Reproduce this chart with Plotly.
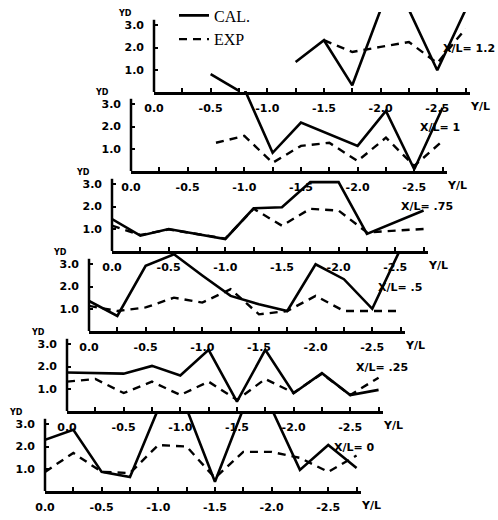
import plotly.graph_objects as go

# ---------------- data ----------------
Y_L = [0.0, -0.25, -0.5, -0.75, -1.0, -1.25, -1.5, -1.75, -2.0, -2.25, -2.5, -2.75]
X_TICK_TEXT = ["0.0", "", "-0.5", "", "-1.0", "", "-1.5", "", "-2.0", "", "-2.5", ""]
YD_TICKS = [1.0, 2.0, 3.0]
YD_TICK_TEXT = ["1.0", "2.0", "3.0"]
PANEL_LABELS = ["X/L= 1.2", "X/L= 1", "X/L= .75", "X/L= .5", "X/L= .25", "X/L= 0"]

CAL_X12 = [None, None, 0.8, 0.05, None, 1.35, 2.33, 0.3, 3.7, 3.7, 0.98, 3.7]
EXP_X12 = [None, None, None, None, None, None, 2.33, 1.8, 2.03, 2.25, 1.3, 2.85]

CAL_X10 = [None, None, None, None, 3.7, 0.82, 2.18, 1.67, 1.13, 2.7, 0.08, 2.85]
EXP_X10 = [None, None, None, 1.27, 1.58, 0.37, 1.13, 1.27, 0.45, 1.5, 0.23, 1.35]

CAL_X075 = [1.44, 0.69, 0.99, 0.77, 0.54, 1.92, 1.97, 3.1, 3.1, 0.77, 1.3, 1.82]
EXP_X075 = [1.14, 0.72, 0.97, 0.78, 0.56, 1.9, 1.14, 1.9, 1.82, 0.84, 0.91, 0.99]

CAL_X05 = [1.35, 0.68, 2.93, 3.45, 2.5, 1.58, 1.2, 0.9, 3.0, 2.33, 1.0, 3.7]
EXP_X05 = [1.13, 0.9, 1.06, 1.5, 1.28, 1.88, 0.75, 0.9, 1.58, 0.9, 0.9, 0.9]

CAL_X025 = [1.73, 1.7, 1.68, 2.03, 1.6, 2.75, 0.42, 2.75, 0.8, 1.7, 0.72, 0.95]
EXP_X025 = [1.32, 1.44, 0.81, 1.32, 0.72, 1.32, 0.5, 1.44, 0.82, 1.68, 0.72, 1.5]

CAL_X0 = [2.3, 2.75, 0.86, 0.63, 3.7, 3.7, 0.42, 3.7, 3.7, 0.95, 2.07, 1.04]
EXP_X0 = [0.86, 1.71, 0.86, 0.81, 2.07, 2.0, 0.59, 1.76, 1.76, 1.49, 0.86, 1.6]

CAL_SERIES = [CAL_X12, CAL_X10, CAL_X075, CAL_X05, CAL_X025, CAL_X0]
EXP_SERIES = [EXP_X12, EXP_X10, EXP_X075, EXP_X05, EXP_X025, EXP_X0]

# ---------------- layout geometry (pixels) ----------------
W, H = 498, 520
PANEL_X0 = [154, 131, 112, 89, 67, 45]       # pixel of Y/L = 0
PANEL_AXIS_Y = [92, 171, 251, 331, 411, 491]  # pixel of x-axis line
PX_PER_UNIT_X = 113.3
PANEL_H = 80
X_RANGE = [0.0, -2.79]
Y_RANGE = [0.0, 3.6]
YL_POS = -2.88

TICK_FONT = dict(family="DejaVu Sans", size=11, color="black", weight="bold")

fig = go.Figure()
layout = dict(
    template="none",
    width=W, height=H,
    margin=dict(l=0, r=0, t=0, b=0, autoexpand=False),
    paper_bgcolor="white",
    plot_bgcolor="rgba(0,0,0,0)",
    showlegend=True,
    legend=dict(
        x=174 / W, y=1.003, xanchor="left", yanchor="top",
        bgcolor="rgba(0,0,0,0)", borderwidth=0,
        font=dict(family="Liberation Serif", size=16, color="black"),
        tracegroupgap=0,
    ),
)
annotations = []
shapes = []

for i in range(6):
    n = i + 1
    xa = "x" if n == 1 else f"x{n}"
    ya = "y" if n == 1 else f"y{n}"
    xkey = "xaxis" if n == 1 else f"xaxis{n}"
    ykey = "yaxis" if n == 1 else f"yaxis{n}"
    x0 = PANEL_X0[i]
    x1 = x0 + abs(X_RANGE[1]) * PX_PER_UNIT_X
    ybot = PANEL_AXIS_Y[i]
    ytop = ybot - PANEL_H

    fig.add_trace(go.Scatter(
        x=Y_L, y=CAL_SERIES[i], mode="lines", name="CAL.",
        line=dict(color="black", width=2.6),
        xaxis=xa, yaxis=ya, connectgaps=False,
        showlegend=(i == 0), legendgroup="cal", hoverinfo="skip",
    ))
    fig.add_trace(go.Scatter(
        x=Y_L, y=EXP_SERIES[i], mode="lines", name="EXP",
        line=dict(color="black", width=2.4, dash="8px,6px"),
        xaxis=xa, yaxis=ya, connectgaps=False,
        showlegend=(i == 0), legendgroup="exp", hoverinfo="skip",
    ))

    layout[xkey] = dict(
        domain=[x0 / W, x1 / W], range=X_RANGE, anchor=ya,
        showline=True, linecolor="black", linewidth=2.5,
        ticks="inside", ticklen=4, tickwidth=2, tickcolor="black",
        tickvals=Y_L, ticktext=X_TICK_TEXT, tickfont=TICK_FONT,
        ticklabelstandoff=4, automargin=False,
        showgrid=False, zeroline=False, fixedrange=True,
    )
    layout[ykey] = dict(
        domain=[1 - ybot / H, 1 - ytop / H], range=Y_RANGE, anchor=xa,
        showline=False,
        ticks="inside", ticklen=4, tickwidth=2, tickcolor="black",
        tickvals=YD_TICKS, ticktext=YD_TICK_TEXT, tickfont=TICK_FONT,
        ticklabelstandoff=9, automargin=False,
        showgrid=False, zeroline=False, fixedrange=True,
    )
    # y axis line (shorter than the panel)
    shapes.append(dict(
        type="line", xref=f"{xa} domain", yref=ya,
        x0=0, x1=0, y0=0, y1=3.25,
        line=dict(color="black", width=2.5),
    ))
    # panel label
    annotations.append(dict(
        xref=xa, yref=ya, x=-2.53, y=1.98, xanchor="left", yanchor="middle",
        text=PANEL_LABELS[i], showarrow=False, font=TICK_FONT,
    ))
    # Y/L axis title (beyond the end of the axis, in domain units)
    annotations.append(dict(
        xref=f"{xa} domain", yref=f"{ya} domain",
        x=YL_POS / X_RANGE[1], y=0, xanchor="center", yanchor="top",
        yshift=-6, text="Y/L", showarrow=False, font=TICK_FONT,
    ))
    # YD axis title
    annotations.append(dict(
        xref=xa, yref=ya, x=0, y=3.55, xshift=-29, xanchor="center", yanchor="middle",
        text="YD", showarrow=False,
        font=dict(family="DejaVu Sans", size=8, color="black", weight="bold"),
    ))

layout["annotations"] = annotations
layout["shapes"] = shapes
fig.update_layout(**layout)

fig.write_html(
    "out.html",
    config={"displayModeBar": False, "staticPlot": True},
    post_script="document.body.style.margin='0';document.body.style.overflow='hidden';",
)
